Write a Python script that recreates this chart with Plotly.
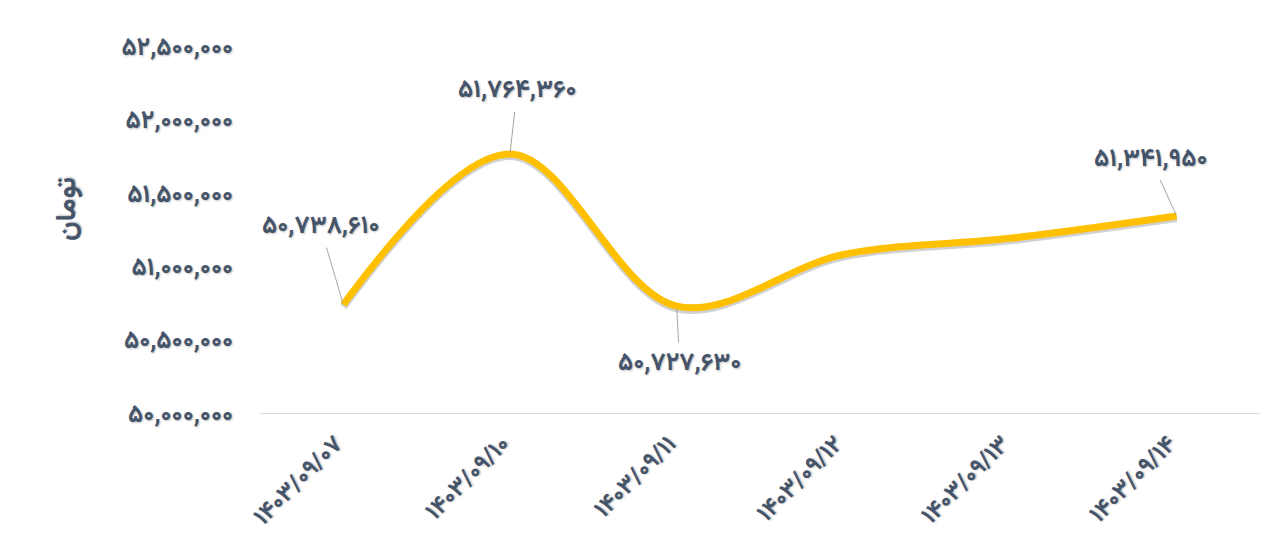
import plotly.graph_objects as go

categories = ["۱۴۰۳/۰۹/۰۷", "۱۴۰۳/۰۹/۱۰", "۱۴۰۳/۰۹/۱۱", "۱۴۰۳/۰۹/۱۲", "۱۴۰۳/۰۹/۱۳", "۱۴۰۳/۰۹/۱۴"]
prices = [50738610, 51764360, 50727630, 51080000, 51190000, 51341950]
tick_values = [50000000, 50500000, 51000000, 51500000, 52000000, 52500000]
y_title = "تومان"
labeled_points = [0, 1, 2, 5]

FA = str.maketrans("0123456789", "۰۱۲۳۴۵۶۷۸۹")


def fa_num(v):
    return f"{v:,}".translate(FA)


tick_text = [fa_num(v) for v in tick_values]

TEXT = "#44546A"
FONT = "Vazirmatn, 'Noto Sans Arabic', 'Noto Naskh Arabic', 'Noto Kufi Arabic', 'DejaVu Sans'"
SHADOW = "1px 1px 2px rgba(0,0,0,0.25)"

xs = list(range(len(categories)))

fig = go.Figure()
# invisible trace on the main axis so its ticks are drawn
fig.add_trace(go.Scatter(
    x=xs, y=prices, mode="lines", yaxis="y",
    line=dict(color="rgba(0,0,0,0)", width=0),
    hoverinfo="skip", showlegend=False,
))
fig.add_trace(go.Scatter(
    x=xs, y=prices, mode="lines", yaxis="y2",
    line=dict(color="rgba(0,0,0,0.18)", width=8, shape="spline", smoothing=1),
    hoverinfo="skip", showlegend=False,
))
fig.add_trace(go.Scatter(
    x=xs, y=prices, mode="lines", yaxis="y3",
    line=dict(color="#FFC000", width=7, shape="spline", smoothing=1),
    hoverinfo="skip", showlegend=False,
))

offsets = {0: (-23, -78), 1: (7, -63), 2: (3, 57), 5: (-26, -57)}
for i in labeled_points:
    ax, ay = offsets[i]
    fig.add_annotation(
        x=xs[i], y=prices[i], yref="y3", text=fa_num(prices[i]),
        showarrow=True, arrowhead=0, arrowwidth=1, arrowcolor="#A6A6A6",
        ax=ax, ay=ay, standoff=2,
        font=dict(family=FONT, size=25, color=TEXT, weight="bold", shadow=SHADOW),
    )

fig.add_annotation(
    xref="paper", yref="paper", x=-0.192, y=0.556, xanchor="center", yanchor="middle",
    text=y_title, showarrow=False, textangle=-90,
    font=dict(family=FONT, size=28, color=TEXT, weight="bold", shadow=SHADOW),
)

yr = [50000000, 52500000]
shift = 14000
fig.update_layout(
    width=1274, height=556,
    margin=dict(l=252, r=22, t=38, b=151),
    paper_bgcolor="white", plot_bgcolor="white",
    hovermode=False,
    xaxis=dict(
        range=[-0.5, 5.5], tickvals=xs, ticktext=categories, tickangle=-45,
        showgrid=False, zeroline=False, showline=True, linecolor="#D9D9D9", linewidth=1,
        ticks="", ticklabelstandoff=6, ticklabelshift=-8,
        tickfont=dict(family=FONT, size=24, color=TEXT, weight="bold", shadow=SHADOW),
        fixedrange=True,
    ),
    yaxis=dict(
        range=yr, tickvals=tick_values, ticktext=tick_text,
        showgrid=False, zeroline=False, showline=False, ticks="",
        ticklabelstandoff=26,
        tickfont=dict(family=FONT, size=25, color=TEXT, weight="bold", shadow=SHADOW),
        fixedrange=True,
    ),
    yaxis2=dict(
        range=[yr[0] + shift, yr[1] + shift], overlaying="y", visible=False, fixedrange=True,
    ),
    yaxis3=dict(
        range=yr, overlaying="y", visible=False, fixedrange=True,
    ),
)

fig.write_html("out.html", config={"displayModeBar": False})
